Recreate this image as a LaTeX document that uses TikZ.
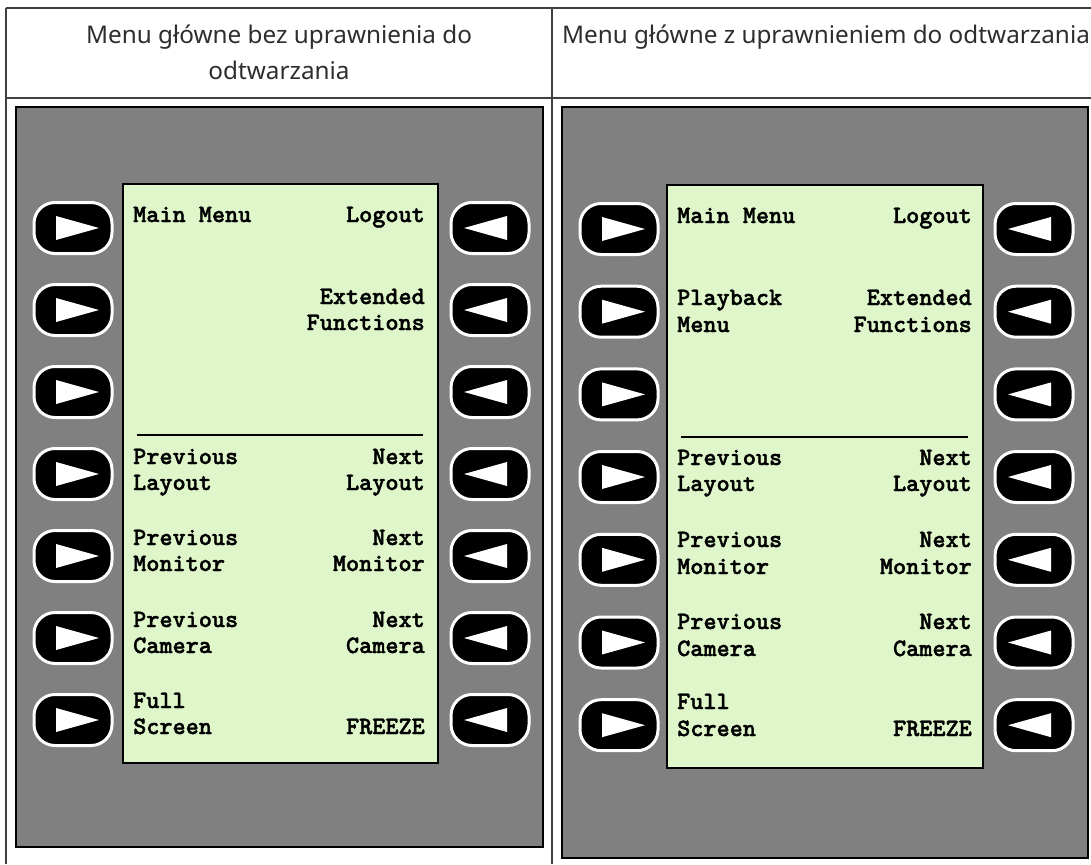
\documentclass[tikz,border=0pt]{standalone}
\usepackage{fontspec}
\setmainfont{Noto Sans}
\newfontfamily\lcdfont{lmmonolt10-bold}[Extension=.otf,FakeBold=1.6]
\definecolor{panelcolor0001}{RGB}{128,128,128}
\definecolor{panelcolor0002}{RGB}{222,246,202}
\definecolor{panelcolor0003}{RGB}{64,64,64}
\definecolor{panelcolor0004}{RGB}{45,45,45}
\begin{document}
\begin{tikzpicture}[yscale=-1
,pstyle0/.style={color=panelcolor0003,line width=1.2pt}
,pstyle1/.style={color=black,fill=panelcolor0001,line width=1.5pt}
,pstyle2/.style={color=black,fill=panelcolor0002,line width=1.8pt}
,pstyle3/.style={color=black,line width=2pt}
,pstyle4/.style={font=\fontsize{24.3}{29}\selectfont,color=panelcolor0004,inner sep=0pt,anchor=base}
,pstyle5/.style={font=\lcdfont\fontsize{25}{27}\selectfont,color=black,inner sep=0pt,anchor=base west}
,pstyle6/.style={pstyle5,anchor=base east}
,pstyle7/.style={shape=rectangle,rounded corners=21pt,minimum width=78pt,minimum height=51pt,fill=black,draw=white,line width=3pt,inner sep=0pt}
,pstyle8/.style={pstyle7,path picture={\fill[white,sharp corners] ([shift={(-17pt,12pt)}]path picture bounding box.center) -- ([shift={(26pt,0pt)}]path picture bounding box.center) -- ([shift={(-17pt,-12pt)}]path picture bounding box.center) -- cycle;}}
,pstyle9/.style={pstyle7,path picture={\fill[white,sharp corners] ([shift={(17pt,12pt)}]path picture bounding box.center) -- ([shift={(-26pt,0pt)}]path picture bounding box.center) -- ([shift={(17pt,-12pt)}]path picture bounding box.center) -- cycle;}}
]
\useasboundingbox (0pt,0pt) rectangle (1091pt,864pt);
\draw[pstyle0] (6pt,8pt) -- (1091pt,8pt);
\draw[pstyle0] (6pt,98pt) -- (1091pt,98pt);
\draw[pstyle0] (6pt,8pt) -- (6pt,864pt);
\draw[pstyle0] (552pt,8pt) -- (552pt,864pt);
\node (ahead1) at (279pt,44pt)[pstyle4]{Menu główne bez uprawnienia do};
\node (ahead2) at (279pt,80pt)[pstyle4]{odtwarzania};
\node (bhead1) at (826pt,44pt)[pstyle4]{Menu główne z uprawnieniem do odtwarzania};
\draw[pstyle1] (16pt,107pt) rectangle (543pt,847pt);
\draw[pstyle1] (562pt,107pt) rectangle (1088pt,858pt);
\draw[pstyle2] (123pt,184pt) rectangle (438pt,763pt);
\draw[pstyle2] (667pt,185pt) rectangle (983pt,768pt);
\draw[pstyle3] (137pt,435pt) -- (423pt,435pt);
\draw[pstyle3] (681pt,437pt) -- (968pt,437pt);
\node (abtnl1) at (73pt,228pt)[pstyle8]{};
\node (abtnl2) at (73pt,310pt)[pstyle8]{};
\node (abtnl3) at (73pt,392pt)[pstyle8]{};
\node (abtnl4) at (73pt,474pt)[pstyle8]{};
\node (abtnl5) at (73pt,556pt)[pstyle8]{};
\node (abtnl6) at (73pt,638pt)[pstyle8]{};
\node (abtnl7) at (73pt,720pt)[pstyle8]{};
\node (abtnr1) at (490pt,228pt)[pstyle9]{};
\node (abtnr2) at (490pt,310pt)[pstyle9]{};
\node (abtnr3) at (490pt,392pt)[pstyle9]{};
\node (abtnr4) at (490pt,474pt)[pstyle9]{};
\node (abtnr5) at (490pt,556pt)[pstyle9]{};
\node (abtnr6) at (490pt,638pt)[pstyle9]{};
\node (abtnr7) at (490pt,720pt)[pstyle9]{};
\node (bbtnl1) at (619pt,229pt)[pstyle8]{};
\node (bbtnl2) at (619pt,311.7pt)[pstyle8]{};
\node (bbtnl3) at (619pt,394.4pt)[pstyle8]{};
\node (bbtnl4) at (619pt,477pt)[pstyle8]{};
\node (bbtnl5) at (619pt,559.8pt)[pstyle8]{};
\node (bbtnl6) at (619pt,642.5pt)[pstyle8]{};
\node (bbtnl7) at (619pt,725.2pt)[pstyle8]{};
\node (bbtnr1) at (1034pt,229pt)[pstyle9]{};
\node (bbtnr2) at (1034pt,311.7pt)[pstyle9]{};
\node (bbtnr3) at (1034pt,394.4pt)[pstyle9]{};
\node (bbtnr4) at (1034pt,477pt)[pstyle9]{};
\node (bbtnr5) at (1034pt,559.8pt)[pstyle9]{};
\node (bbtnr6) at (1034pt,642.5pt)[pstyle9]{};
\node (bbtnr7) at (1034pt,725.2pt)[pstyle9]{};
\node (amain) at (133pt,222pt)[pstyle5]{Main Menu};
\node (alogout) at (425pt,222pt)[pstyle6]{Logout};
\node (aext1) at (425pt,304pt)[pstyle6]{Extended};
\node (aext2) at (425pt,330pt)[pstyle6]{Functions};
\node (aprevl1) at (133pt,464pt)[pstyle5]{Previous};
\node (aprevl2) at (133pt,490pt)[pstyle5]{Layout};
\node (anextl1) at (425pt,464pt)[pstyle6]{Next};
\node (anextl2) at (425pt,490pt)[pstyle6]{Layout};
\node (aprevm1) at (133pt,545pt)[pstyle5]{Previous};
\node (aprevm2) at (133pt,571pt)[pstyle5]{Monitor};
\node (anextm1) at (425pt,545pt)[pstyle6]{Next};
\node (anextm2) at (425pt,571pt)[pstyle6]{Monitor};
\node (aprevc1) at (133pt,627pt)[pstyle5]{Previous};
\node (aprevc2) at (133pt,653pt)[pstyle5]{Camera};
\node (anextc1) at (425pt,627pt)[pstyle6]{Next};
\node (anextc2) at (425pt,653pt)[pstyle6]{Camera};
\node (afull1) at (133pt,708pt)[pstyle5]{Full};
\node (afull2) at (133pt,734pt)[pstyle5]{Screen};
\node (afreeze) at (425pt,734pt)[pstyle6]{FREEZE};
\node (bmain) at (677pt,223pt)[pstyle5]{Main Menu};
\node (blogout) at (972pt,223pt)[pstyle6]{Logout};
\node (bplay1) at (677pt,305pt)[pstyle5]{Playback};
\node (bplay2) at (677pt,332pt)[pstyle5]{Menu};
\node (bext1) at (972pt,305pt)[pstyle6]{Extended};
\node (bext2) at (972pt,332pt)[pstyle6]{Functions};
\node (bprevl1) at (677pt,465pt)[pstyle5]{Previous};
\node (bprevl2) at (677pt,491pt)[pstyle5]{Layout};
\node (bnextl1) at (972pt,465pt)[pstyle6]{Next};
\node (bnextl2) at (972pt,491pt)[pstyle6]{Layout};
\node (bprevm1) at (677pt,547pt)[pstyle5]{Previous};
\node (bprevm2) at (677pt,574pt)[pstyle5]{Monitor};
\node (bnextm1) at (972pt,547pt)[pstyle6]{Next};
\node (bnextm2) at (972pt,574pt)[pstyle6]{Monitor};
\node (bprevc1) at (677pt,629pt)[pstyle5]{Previous};
\node (bprevc2) at (677pt,656pt)[pstyle5]{Camera};
\node (bnextc1) at (972pt,629pt)[pstyle6]{Next};
\node (bnextc2) at (972pt,656pt)[pstyle6]{Camera};
\node (bfull1) at (677pt,709pt)[pstyle5]{Full};
\node (bfull2) at (677pt,736pt)[pstyle5]{Screen};
\node (bfreeze) at (972pt,736pt)[pstyle6]{FREEZE};
\end{tikzpicture}
\end{document}
